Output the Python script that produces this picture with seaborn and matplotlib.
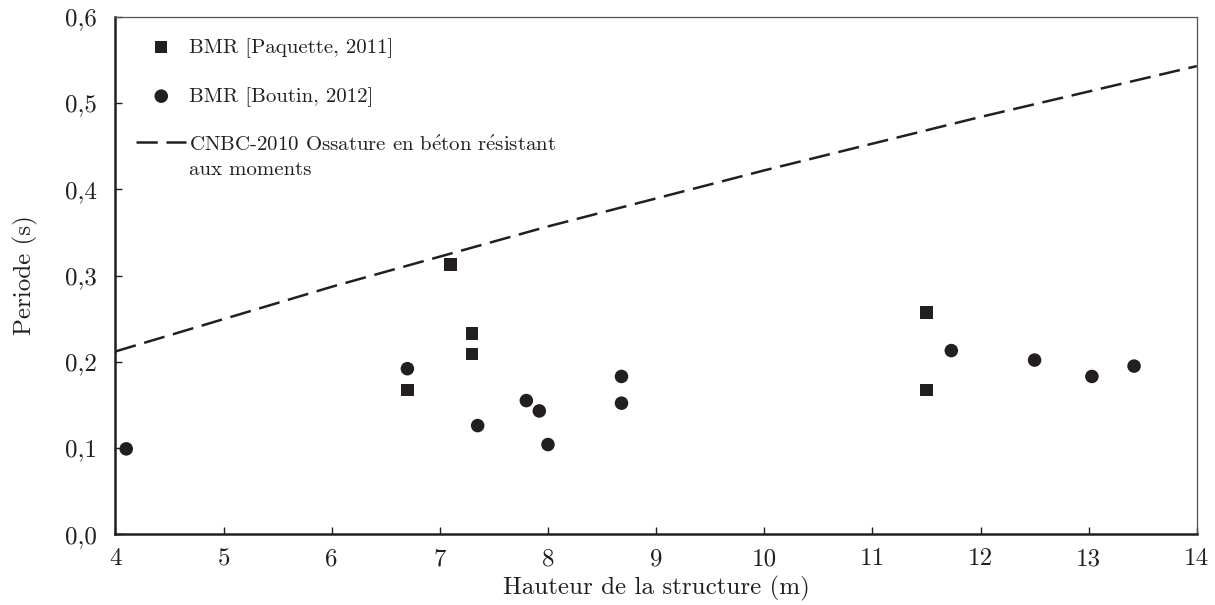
import matplotlib
matplotlib.use("Agg")
import numpy as np
import matplotlib.pyplot as plt
import seaborn as sns
import pandas as pd
from matplotlib.ticker import FuncFormatter, MultipleLocator
from matplotlib.legend_handler import HandlerLine2D
from matplotlib.lines import Line2D

# Data
paquette_h = [6.7, 7.1, 7.3, 7.3, 11.5, 11.5]
paquette_t = [0.167, 0.313, 0.233, 0.209, 0.257, 0.167]

boutin_h = [4.1, 6.7, 7.35, 7.8, 7.92, 8.0, 8.68, 8.68, 11.73, 12.5, 13.03, 13.42]
boutin_t = [0.099, 0.192, 0.126, 0.155, 0.143, 0.104, 0.183, 0.152, 0.213, 0.202, 0.183, 0.195]

cnbc_h = [4, 6, 8, 10, 12, 14]
cnbc_t = [0.212, 0.287, 0.357, 0.422, 0.484, 0.543]

labels = ["BMR [Paquette, 2011]", "BMR [Boutin, 2012]",
          "CNBC-2010 Ossature en b$\\acute{\\mathrm{e}}$ton r$\\acute{\\mathrm{e}}$sistant\naux moments"]

sns.set_theme(style="white")
plt.rcParams['font.family'] = ['cmr10', 'DejaVu Serif']
plt.rcParams['axes.formatter.use_mathtext'] = True
plt.rcParams['mathtext.fontset'] = 'cm'

ink = "#231f20"


class ShiftedLine(HandlerLine2D):
    """Align the dashed handle with the first line of a two-line label."""
    def create_artists(self, legend, orig_handle, xdescent, ydescent,
                       width, height, fontsize, trans):
        arts = super().create_artists(legend, orig_handle, xdescent, ydescent,
                                      width, height, fontsize, trans)
        for a in arts:
            a.set_ydata(np.asarray(a.get_ydata(), dtype=float) + 0.72 * fontsize)
        return arts


fig, ax = plt.subplots(figsize=(12.15, 6.05), dpi=100)
fig.subplots_adjust(left=0.095, right=0.985, top=0.972, bottom=0.117)

df_p = pd.DataFrame({"h": paquette_h, "t": paquette_t})
df_b = pd.DataFrame({"h": boutin_h, "t": boutin_t})
df_c = pd.DataFrame({"h": cnbc_h, "t": cnbc_t})

sns.scatterplot(data=df_p, x="h", y="t", marker="s", s=80, color=ink,
                edgecolor="none", ax=ax, label=labels[0], zorder=3)
sns.scatterplot(data=df_b, x="h", y="t", marker="o", s=95, color=ink,
                edgecolor="none", ax=ax, label=labels[1], zorder=3)
sns.lineplot(data=df_c, x="h", y="t", color=ink, lw=1.8, ax=ax,
             label=labels[2], zorder=2)
ax.lines[0].set_dashes((8.5, 3.5))

ax.set_xlim(4, 14)
ax.set_ylim(0, 0.6)
ax.xaxis.set_major_locator(MultipleLocator(1))
ax.yaxis.set_major_locator(MultipleLocator(0.1))
ax.yaxis.set_major_formatter(FuncFormatter(lambda v, p: f"{v:.1f}".replace(".", ",")))
ax.xaxis.set_major_formatter(FuncFormatter(lambda v, p: f"{int(round(v))}"))

ax.set_xlabel("Hauteur de la structure (m)", fontsize=18, color=ink, labelpad=4)
ax.set_ylabel("Periode (s)", fontsize=18, color=ink, labelpad=20)
ax.tick_params(axis="both", direction="in", length=5, width=1, colors=ink,
               labelsize=18, bottom=True, left=True)
ax.tick_params(axis="y", pad=13)
ax.tick_params(axis="x", pad=10)

for side in ["left", "bottom"]:
    ax.spines[side].set_linewidth(1.8)
    ax.spines[side].set_color(ink)
for side in ["top", "right"]:
    ax.spines[side].set_linewidth(0.9)
    ax.spines[side].set_color("#555555")

leg = ax.legend(loc="upper left", bbox_to_anchor=(0.0, 1.0), frameon=False,
                fontsize=15, labelspacing=1.4, handlelength=2.4,
                handletextpad=0.15, borderaxespad=0.6,
                handler_map={Line2D: ShiftedLine()})
for t in leg.get_texts():
    t.set_color(ink)
    t.set_linespacing(1.45)

fig.savefig("out.png", dpi=100)
